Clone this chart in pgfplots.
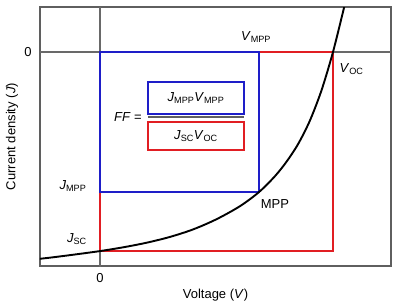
\documentclass[border=0pt]{standalone}
\usepackage{pgfplots}
\pgfplotsset{compat=1.18}
\usepackage{fontspec}
\setmainfont{Liberation Sans}
\definecolor{ffblue}{RGB}{30,30,200}
\definecolor{ffred}{RGB}{225,30,35}
\definecolor{axgray}{RGB}{95,95,95}
\definecolor{zgray}{RGB}{105,105,105}
\begin{document}
\fontsize{13}{15}\selectfont
\begin{tikzpicture}[font=\fontsize{13}{15}\selectfont]
\begin{axis}[at={(0,0)},anchor=south west, scale only axis, width=351pt, height=259pt,
 xmin=-0.2575, xmax=1.249, ymin=-1.075, ymax=0.226,
 axis line style={axgray, line width=1.5pt},
 xtick={0}, ytick={0}, xticklabels={0}, yticklabels={0},
 major tick length=0pt,
 /pgf/number format/assume math mode=true,
 xticklabel style={anchor=center, yshift=-12pt},
 yticklabel style={anchor=center, xshift=-12pt},
 xlabel={Voltage (\textit{V})}, ylabel={Current density (\textit{J})},
 xlabel style={at={(rel axis cs:0.5,-0.113)}, anchor=center},
 ylabel style={at={(rel axis cs:-0.08,0.5)}, anchor=center},
 clip=true,
]
\addplot[zgray, line width=1.2pt] coordinates {(-0.3,0) (1.3,0)};
\addplot[zgray, line width=1.2pt] coordinates {(0,-1.2) (0,0.3)};
\addplot[ffred, line width=2pt] coordinates {(0,-1) (1,-1) (1,0) (0,0) (0,-1)} -- cycle;
\addplot[ffblue, line width=2pt] coordinates {(0,-0.704) (0.682,-0.704) (0.682,0) (0,0) (0,-0.704)} -- cycle;
\addplot[black, line width=1.9pt, smooth] coordinates {
(-0.26,-1.039) (-0.2,-1.031) (-0.1,-1.016) (0,-1.000) (0.1,-0.981) (0.2,-0.958)
(0.3,-0.929) (0.4,-0.891) (0.5,-0.840) (0.6,-0.775) (0.682,-0.704) (0.75,-0.625)
(0.8,-0.552) (0.85,-0.463) (0.9,-0.347) (0.95,-0.195) (1.0,0.0) (1.05,0.235) (1.07,0.33)};
% fraction
\draw[ffblue, line width=1.8pt] (axis cs:0.206,-0.151) rectangle (axis cs:0.618,-0.312);
\draw[axgray, line width=1.6pt] (axis cs:0.206,-0.327) -- (axis cs:0.618,-0.327);
\draw[ffred, line width=1.8pt] (axis cs:0.206,-0.352) rectangle (axis cs:0.618,-0.492);
\node at (axis cs:0.412,-0.231) {\textit{J}\textsubscript{MPP}\textit{V}\textsubscript{MPP}};
\node at (axis cs:0.412,-0.422) {\textit{J}\textsubscript{SC}\textit{V}\textsubscript{OC}};
\node at (axis cs:0.12,-0.327) {\textit{FF} =};
% labels
\node at (axis cs:0.67,0.075) {\textit{V}\textsubscript{MPP}};
\node at (axis cs:1.08,-0.085) {\textit{V}\textsubscript{OC}};
\node at (axis cs:-0.116,-0.673) {\textit{J}\textsubscript{MPP}};
\node at (axis cs:-0.099,-0.94) {\textit{J}\textsubscript{SC}};
\node at (axis cs:0.751,-0.764) {MPP};
\end{axis}
\pgfresetboundingbox
\path[use as bounding box] (-40pt,-35pt) rectangle (353pt,266pt);
\end{tikzpicture}
\end{document}
